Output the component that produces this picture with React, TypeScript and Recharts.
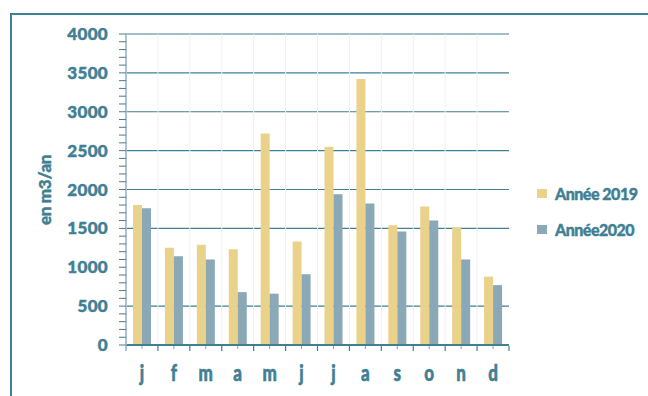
import React from 'react';
import { BarChart, Bar, XAxis, YAxis, CartesianGrid, Legend } from 'recharts';

// Monthly volumes (m3/an) for the two years
const months = ['j', 'f', 'm', 'a', 'm', 'j', 'j', 'a', 's', 'o', 'n', 'd'];
const year2019 = [1800, 1250, 1290, 1230, 2720, 1330, 2550, 3420, 1540, 1780, 1510, 880];
const year2020 = [1760, 1140, 1100, 680, 660, 910, 1940, 1820, 1460, 1600, 1100, 770];
const seriesNames = ['Année 2019', 'Année2020'];

// Axis ticks: minor ticks every 100, labels every 500
const yTicks = Array.from({ length: 41 }, (_, i) => i * 100);
const yLabelStep = 500;
const yGridValues = [500, 1500, 2000, 2500, 3000, 3500, 4000];
// Month slots sit on a 0..12 numeric scale; boundaries on integers, letters on halves
const xTicks = Array.from({ length: 25 }, (_, i) => i / 2);
const xBoundaries = [1, 2, 3, 4, 5, 6, 7, 8, 9, 10, 11];

const data = months.map((m, i) => ({
  pos: i + 0.5,
  month: m,
  y2019: year2019[i],
  y2020: year2020[i],
}));

const TEAL = '#417f94';
const AXIS_LIGHT = '#adc4ce';
const GRID_LIGHT = '#eef1f3';
const YELLOW = '#ead28a';
const BLUE = '#8aa8b5';
const FONT = "Lato, 'Open Sans', sans-serif";

// heavier strokes on labels give the dense, bold lettering
const textStyle = {
  fill: TEAL,
  fontFamily: FONT,
  fontWeight: 900,
  stroke: TEAL,
  strokeWidth: 0.45,
} as const;

const XTick = (props: any) => {
  const { x, y, payload } = props;
  const v = payload.value as number;
  if (Number.isInteger(v)) {
    return (
      <line
        x1={x}
        x2={x}
        y1={y + 1}
        y2={y + 6}
        stroke={v === 0 ? AXIS_LIGHT : TEAL}
        strokeWidth={v === 0 ? 2 : 1.2}
      />
    );
  }
  return (
    <g>
      <line x1={x} x2={x} y1={y + 1} y2={y + 4} stroke="#7ea3b1" strokeWidth={1} />
      <text
        transform={`translate(${x},${y + 36}) scale(1,1.3)`}
        textAnchor="middle"
        fontSize={17}
        {...textStyle}
      >
        {months[Math.floor(v)]}
      </text>
    </g>
  );
};

const YTick = (props: any) => {
  const { x, y, payload } = props;
  if (payload.value % yLabelStep !== 0) return <g />;
  return (
    <text
      x={x}
      y={y}
      dy="0.36em"
      textAnchor="end"
      fontSize={17}
      letterSpacing={0.3}
      {...textStyle}
    >
      {payload.value}
    </text>
  );
};

const YTitle = () => (
  <text
    transform="translate(44,190) rotate(-90)"
    textAnchor="middle"
    dominantBaseline="central"
    fontSize={17}
    letterSpacing={-0.3}
    {...textStyle}
  >
    en m3/an
  </text>
);

const LegendContent = (props: any) => {
  const { payload } = props;
  return (
    <div>
      {(payload || []).map((entry: any, i: number) => (
        <div
          key={i}
          style={{
            display: 'flex',
            alignItems: 'center',
            height: 20,
            marginBottom: 16,
          }}
        >
          <span
            style={{
              display: 'inline-block',
              width: 10,
              height: 9,
              background: entry.color,
              marginRight: 8,
            }}
          />
          <span
            style={{
              color: TEAL,
              fontFamily: FONT,
              fontWeight: 900,
              fontSize: 16,
              letterSpacing: -0.5,
              whiteSpace: 'nowrap',
              WebkitTextStroke: `0.4px ${TEAL}`,
            }}
          >
            {entry.value}
          </span>
        </div>
      ))}
    </div>
  );
};

export default function App() {
  return (
    <div
      style={{
        position: 'absolute',
        left: 0,
        top: 0,
        width: 648,
        height: 396,
        overflow: 'hidden',
        background: '#fff',
      }}
    >
      <div
        style={{
          position: 'absolute',
          left: 10,
          top: 13,
          width: 720,
          height: 460,
          borderTop: `2px solid ${TEAL}`,
          borderLeft: `2px solid ${TEAL}`,
        }}
      />
      <div style={{ position: 'absolute', left: 0, top: 0 }}>
        <BarChart
          width={648}
          height={396}
          data={data}
          margin={{ top: 34, right: 139, bottom: 0, left: 0 }}
          barGap={0}
          barSize={9}
        >
          <CartesianGrid
            vertical={false}
            horizontalValues={yGridValues}
            stroke={TEAL}
            strokeWidth={1.2}
            strokeDasharray=""
          />
          <CartesianGrid
            horizontal={false}
            verticalValues={xBoundaries}
            stroke={GRID_LIGHT}
            strokeWidth={1}
            strokeDasharray=""
          />
          <XAxis
            dataKey="pos"
            type="number"
            domain={[0, 12]}
            ticks={xTicks}
            interval={0}
            tickSize={0}
            tickMargin={0}
            tickLine={false}
            axisLine={{ stroke: TEAL, strokeWidth: 2 }}
            height={51}
            tick={<XTick />}
          />
          <YAxis
            type="number"
            domain={[0, 4000]}
            ticks={yTicks}
            interval={0}
            tickSize={7}
            tickMargin={11}
            axisLine={{ stroke: AXIS_LIGHT, strokeWidth: 2 }}
            tickLine={{ stroke: TEAL, strokeWidth: 1 }}
            width={126}
            tick={<YTick />}
            label={{ content: () => <YTitle /> }}
          />
          <Legend
            layout="vertical"
            align="center"
            verticalAlign="middle"
            wrapperStyle={{ left: 537, top: 183, width: 111 }}
            content={<LegendContent />}
          />
          <Bar dataKey="y2019" name={seriesNames[0]} fill={YELLOW} isAnimationActive={false} />
          <Bar dataKey="y2020" name={seriesNames[1]} fill={BLUE} isAnimationActive={false} />
        </BarChart>
      </div>
    </div>
  );
}
